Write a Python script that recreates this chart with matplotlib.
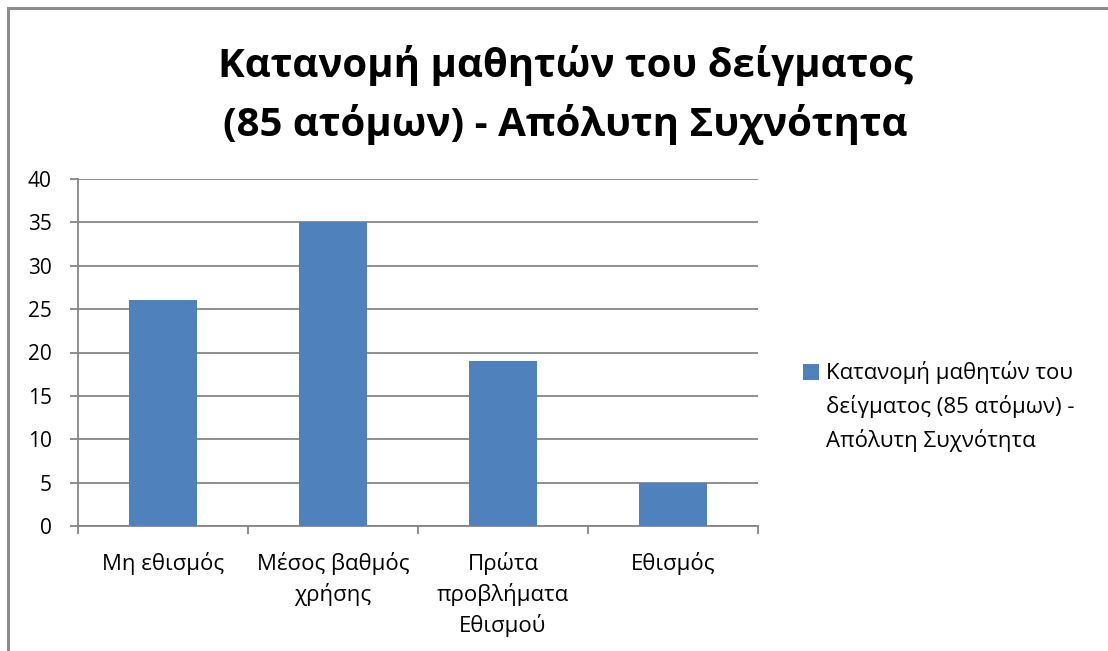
import matplotlib
matplotlib.use('Agg')
from matplotlib import pyplot as plt
from matplotlib.patches import Rectangle

categories = ['Μη εθισμός', 'Μέσος βαθμός\nχρήσης', 'Πρώτα\nπροβλήματα\nΕθισμού', 'Εθισμός']
counts = [26, 35, 19, 5]
series_lines = ['Κατανομή μαθητών του', 'δείγματος (85 ατόμων) -', 'Απόλυτη Συχνότητα']
title = 'Κατανομή μαθητών του δείγματος\n(85 ατόμων) - Απόλυτη Συχνότητα'
yticks = [0, 5, 10, 15, 20, 25, 30, 35, 40]

plt.rcParams['font.family'] = ['Open Sans', 'DejaVu Sans']
W, H = 1108, 651

fig = plt.figure(figsize=(W/100, H/100), dpi=100)
fig.patch.set_facecolor('white')

# outer chart frame (runs off the right and bottom edges)
fig.patches.append(Rectangle((8/W, -0.1), 1.2, (H-8)/H + 0.1, transform=fig.transFigure,
                             fill=False, edgecolor='#8c8c8c', linewidth=2.2))

ax = fig.add_axes([78/W, 1-526/H, (758-78)/W, (526-179)/H])
x = list(range(len(categories)))
bars = ax.bar(x, counts, width=0.4, color='#4f81bd', zorder=3)

ax.set_xlim(-0.5, len(categories)-0.5)
ax.set_ylim(0, 40)
ax.set_yticks(yticks)
ax.set_xticks([i - 0.5 for i in range(len(categories)+1)])
ax.set_xticklabels([])
ax.set_xticks(x, minor=True)
ax.set_xticklabels(categories, minor=True, fontsize=16, linespacing=1.42, va='top')
ax.tick_params(axis='x', which='major', direction='out', length=6, color='#868686', width=1.3)
ax.tick_params(axis='x', which='minor', length=0, pad=19)
ax.tick_params(axis='y', direction='out', length=6, color='#868686', width=1.3, labelsize=15, pad=13)
ax.yaxis.grid(True, color='#868686', linewidth=1.3, zorder=0)
ax.set_axisbelow(True)

for s in ['top', 'right']:
    ax.spines[s].set_visible(False)
for s in ['left', 'bottom']:
    ax.spines[s].set_color('#868686')
    ax.spines[s].set_linewidth(1.3)

fig.text(565/W, 1-95/H, title, ha='center', va='center', fontsize=29, fontweight='bold',
         linespacing=1.55)

# legend: key sits beside the first line of the series name
fig.legend([bars], [series_lines[0]], loc='center left', bbox_to_anchor=(803/W, 1-373/H),
           frameon=False, fontsize=16, borderpad=0, borderaxespad=0,
           handlelength=0.7, handleheight=0.7, handletextpad=0.35)
for i, line in enumerate(series_lines[1:]):
    fig.text(826/W, 1-(407 + 33*i)/H, line, ha='left', va='center', fontsize=16)

fig.savefig('out.png', dpi=100)
